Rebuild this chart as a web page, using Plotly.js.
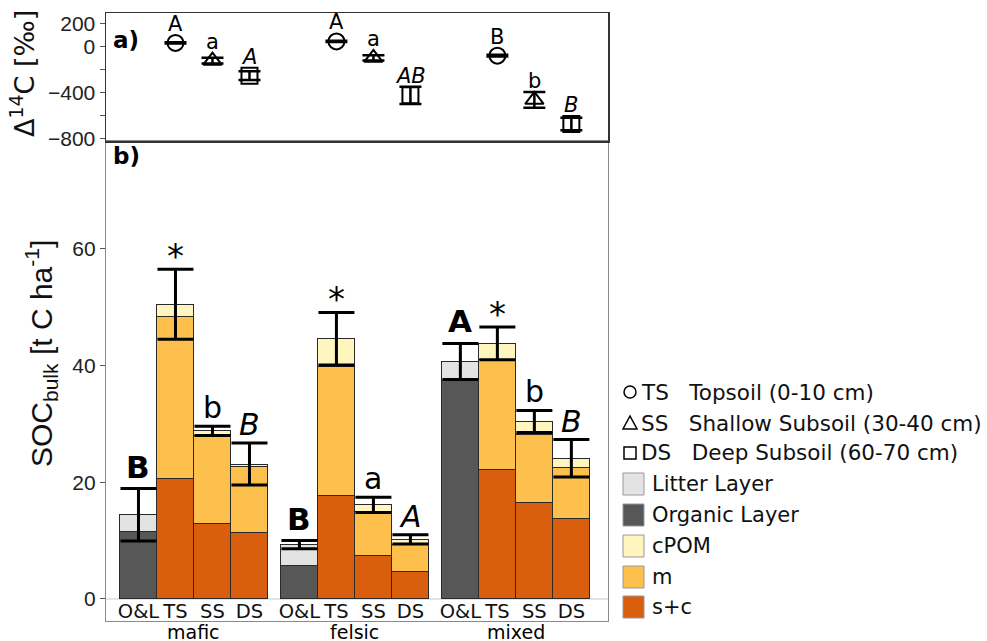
<!DOCTYPE html>
<html><head><meta charset="utf-8">
<script src="https://cdn.plot.ly/plotly-3.0.1.min.js"></script>
<style>html,body{margin:0;padding:0;background:#fff}#chart{width:987px;height:641px}</style>
</head><body><div id="chart"></div>
<script>
// ---------------- data ----------------
const geologies = ['mafic', 'felsic', 'mixed'];
const depthLabels = ['O&L', 'TS', 'SS', 'DS'];
// O&L bars (one per geology)
const organicLayer = [11.5, 5.7, 37.5];
const litterLayer = [2.9, 3.6, 3.2];
const olSE = [4.5, 0.7, 3.1];
const olLetters = ['B', 'B', 'A'];
// mineral soil bars, order: TS, SS, DS for mafic, felsic, mixed
const scFraction = [20.6, 13.0, 11.3, 17.7, 7.5, 4.7, 22.1, 16.6, 13.7];
const mFraction = [27.8, 15.0, 11.4, 22.1, 7.5, 4.6, 19.0, 11.6, 8.8];
const cpomFraction = [2.1, 0.8, 0.4, 4.8, 1.1, 0.9, 2.7, 2.2, 1.6];
const mineralSE = [6.0, 0.8, 3.6, 4.5, 1.3, 0.8, 2.8, 1.9, 3.2];
const mineralLetters = ['*', 'b', 'B', '*', 'a', 'A', '*', 'b', 'B'];
// Delta 14C (permil), order: TS, SS, DS for mafic, felsic, mixed
const d14C = [30, -125, -255, 43, -100, -426, -81, -465, -675];
const d14CSE = [6, 25, 38, 6, 22, 75, 8, 68, 55];
const d14CLetters = ['A', 'a', 'A', 'A', 'a', 'AB', 'B', 'b', 'B'];
// ticks
const socTicks = [0, 20, 40, 60];
const d14CTicks = [200, 0, -400, -800];
const d14CMinorTicks = [-200, -600];
// legend
const depthLegend = ['TS\u00a0\u00a0\u00a0Topsoil (0-10 cm)', 'SS\u00a0\u00a0\u00a0Shallow Subsoil (30-40 cm)', 'DS\u00a0\u00a0\u00a0Deep Subsoil (60-70 cm)'];
const fractionLegend = ['Litter Layer', 'Organic Layer', 'cPOM', 'm', 's+c'];

// ---------------- styling ----------------
const colLitter = '#e3e3e3', colOrganic = '#575757', colCpom = '#fff5bf', colM = '#fdc04c', colSC = '#d95f0e';
const W = 987, H = 641, ML = 106, MR = 379, MT = 13, MB = 20;
const PW = W - ML - MR, PH = H - MT - MB;
const px2x = p => (p - ML) / PW;
const px2y = p => (H - MB - p) / PH;
const gap = 0.35;
const pos = (g, d) => g * (4 + gap) + d;
const FONT = 'DejaVu Sans, Verdana, sans-serif';
const AFONT = 'Liberation Sans, Arial, sans-serif';
const topRange = [-823, 290];
const topPxPerUnit = (141 - MT) / (topRange[1] - topRange[0]);
const markerR = 8;

const olX = geologies.map((_, g) => pos(g, 0));
const minX = [];
geologies.forEach((_, g) => { for (let d = 1; d <= 3; d++) minX.push(pos(g, d)); });
const olTotal = organicLayer.map((v, i) => v + litterLayer[i]);
const minTotal = scFraction.map((v, i) => v + mFraction[i] + cpomFraction[i]);

const barLine = {color: '#2a2a2a', width: 1};
const traces = [
  {type: 'bar', x: olX, y: organicLayer, name: 'Organic Layer', marker: {color: colOrganic, line: barLine}, width: 1, xaxis: 'x', yaxis: 'y'},
  {type: 'bar', x: olX, y: litterLayer, name: 'Litter Layer', marker: {color: colLitter, line: barLine}, width: 1, xaxis: 'x', yaxis: 'y'},
  {type: 'bar', x: minX, y: scFraction, name: 's+c', marker: {color: colSC, line: barLine}, width: 1, xaxis: 'x', yaxis: 'y'},
  {type: 'bar', x: minX, y: mFraction, name: 'm', marker: {color: colM, line: barLine}, width: 1, xaxis: 'x', yaxis: 'y'},
  {type: 'bar', x: minX, y: cpomFraction, name: 'cPOM', marker: {color: colCpom, line: barLine}, width: 1, xaxis: 'x', yaxis: 'y'},
  {type: 'scatter', mode: 'markers', x: olX.concat(minX), y: olTotal.concat(minTotal), name: 'SE',
   marker: {size: 1, opacity: 0}, xaxis: 'x', yaxis: 'y',
   error_y: {type: 'data', array: olSE.concat(mineralSE), visible: true, color: '#000', thickness: 3, width: 18}}
];
const symbols = ['circle-open', 'triangle-up-open', 'square-open'];
for (let d = 0; d < 3; d++) {
  const xs = [], ys = [], es = [];
  geologies.forEach((_, g) => { xs.push(pos(g, d + 1)); ys.push(d14C[g * 3 + d]); es.push(d14CSE[g * 3 + d]); });
  traces.push({type: 'scatter', mode: 'markers', x: xs, y: ys, name: depthLabels[d + 1], xaxis: 'x2', yaxis: 'y2',
    marker: {symbol: symbols[d], size: 16, color: '#000', line: {width: 2, color: '#000'}},
    error_y: {type: 'data', array: es, visible: true, color: '#000', thickness: 2.5, width: 11}});
}

const ann = [];
// panel labels
ann.push({text: '<b>a)</b>', xref: 'paper', yref: 'paper', x: px2x(111), y: px2y(40), xanchor: 'left', yanchor: 'middle', showarrow: false, font: {family: FONT, size: 23, color: '#000'}});
ann.push({text: '<b>b)</b>', xref: 'paper', yref: 'paper', x: px2x(111), y: px2y(156), xanchor: 'left', yanchor: 'middle', showarrow: false, font: {family: FONT, size: 23, color: '#000'}});
// axis titles
ann.push({text: '\u0394<sup>14</sup>C [\u2030]', xref: 'paper', yref: 'paper', x: px2x(23), y: px2y(74), textangle: -90, showarrow: false, xanchor: 'center', yanchor: 'middle', font: {family: FONT, size: 27, color: '#111'}});
ann.push({text: 'SOC<sub>bulk</sub> [t C ha<sup>-1</sup>]', xref: 'paper', yref: 'paper', x: px2x(41), y: px2y(354), textangle: -90, showarrow: false, xanchor: 'center', yanchor: 'middle', font: {family: AFONT, size: 30, color: '#111'}});
// bar letters
geologies.forEach((geo, g) => {
  ann.push({text: '<b>' + olLetters[g] + '</b>', x: olX[g], y: olTotal[g] + olSE[g], xref: 'x', yref: 'y', yanchor: 'bottom', yshift: 2, showarrow: false, font: {family: FONT, size: 31, color: '#000'}});
  for (let d = 0; d < 3; d++) {
    const i = g * 3 + d;
    const L = mineralLetters[i];
    const txt = d === 2 ? '<i>' + L + '</i>' : L;
    ann.push({text: txt, x: minX[i], y: minTotal[i] + mineralSE[i], xref: 'x', yref: 'y', yanchor: 'bottom', yshift: L === '*' ? -9 : -1, showarrow: false, font: {family: FONT, size: L === '*' ? 34 : 30, color: '#000'}});
    const L2 = d14CLetters[i];
    const errPx = d14CSE[i] * topPxPerUnit;
    ann.push({text: d === 2 ? '<i>' + L2 + '</i>' : L2, x: minX[i], y: d14C[i] + d14CSE[i], xref: 'x2', yref: 'y2', yanchor: 'bottom',
      yshift: Math.max(0, markerR - errPx) - 3, showarrow: false, font: {family: FONT, size: 21, color: '#000'}});
  }
  ann.push({text: geo, x: pos(g, 1.5), y: px2y(619), xref: 'x', yref: 'paper', yanchor: 'top', showarrow: false, font: {family: FONT, size: 19, color: '#000'}});
});
// legend (manual)
const shapes = [];
const rowY = [392, 423, 453, 484, 515, 546, 577, 607];
const legFont = {family: FONT, size: 21, color: '#111'};
depthLegend.forEach((t, i) => {
  ann.push({text: t, xref: 'paper', yref: 'paper', x: px2x(639), y: px2y(rowY[i]), xanchor: 'left', yanchor: 'middle', showarrow: false, font: {family: FONT, size: 21.5, color: '#111'}});
});
const cy0 = rowY[0], cy1 = rowY[1], cy2 = rowY[2], cx = 630;
shapes.push({type: 'circle', xref: 'paper', yref: 'paper', x0: px2x(cx - 6), x1: px2x(cx + 6), y0: px2y(cy0 + 6), y1: px2y(cy0 - 6), line: {color: '#000', width: 1.5}});
shapes.push({type: 'path', xref: 'paper', yref: 'paper', path: 'M ' + px2x(cx - 7) + ' ' + px2y(cy1 + 6) + ' L ' + px2x(cx + 7) + ' ' + px2y(cy1 + 6) + ' L ' + px2x(cx) + ' ' + px2y(cy1 - 7) + ' Z', line: {color: '#000', width: 1.5}});
shapes.push({type: 'rect', xref: 'paper', yref: 'paper', x0: px2x(cx - 6), x1: px2x(cx + 6), y0: px2y(cy2 + 6), y1: px2y(cy2 - 6), line: {color: '#000', width: 1.5}});
const fracCols = [colLitter, colOrganic, colCpom, colM, colSC];
fractionLegend.forEach((t, i) => {
  const yy = rowY[i + 3];
  shapes.push({type: 'rect', xref: 'paper', yref: 'paper', x0: px2x(623), x1: px2x(644), y0: px2y(yy + 11), y1: px2y(yy - 11), fillcolor: fracCols[i], line: {color: '#999', width: 1}});
  ann.push({text: t, xref: 'paper', yref: 'paper', x: px2x(650), y: px2y(yy), xanchor: 'left', yanchor: 'middle', showarrow: false, font: legFont});
});

const xr = [-0.878, 12.69];
const layout = {
  width: W, height: H, margin: {l: ML, r: MR, t: MT, b: MB, pad: 0},
  paper_bgcolor: '#fff', plot_bgcolor: '#fff', showlegend: false, barmode: 'stack', bargap: 0,
  xaxis: {domain: [0, 1], range: xr, anchor: 'y', showline: true, mirror: true, linecolor: '#8a8a8a', linewidth: 1.2,
    showgrid: false, zeroline: false, ticks: '', tickvals: olX.concat(minX), ticktext: geologies.map(() => depthLabels[0]).concat(minX.map((_, i) => depthLabels[i % 3 + 1])),
    ticklabelposition: 'inside', tickfont: {family: FONT, size: 19.5, color: '#111'}},
  yaxis: {domain: [0, px2y(141)], range: [-3.8, 78.5], anchor: 'x', showline: true, mirror: true, linecolor: '#8a8a8a', linewidth: 1.2,
    showgrid: false, zeroline: true, zerolinecolor: '#e4e4e4', zerolinewidth: 1.5, ticks: 'outside', ticklen: 5, tickcolor: '#555',
    tickvals: socTicks, tickfont: {family: AFONT, size: 21, color: '#222'}},
  xaxis2: {domain: [0, 1], range: xr, anchor: 'y2', matches: 'x', showline: true, mirror: true, linecolor: '#333', linewidth: 1.5,
    showgrid: false, zeroline: false, showticklabels: false, ticks: ''},
  yaxis2: {domain: [px2y(141), 1], range: topRange, anchor: 'x2', showline: true, mirror: true, linecolor: '#333', linewidth: 1.5,
    showgrid: false, zeroline: false, ticks: 'outside', ticklen: 5, tickcolor: '#555',
    tickvals: d14CTicks, tickfont: {family: AFONT, size: 21, color: '#222'},
    minor: {tickvals: d14CMinorTicks, ticks: 'outside', ticklen: 5, tickcolor: '#555', showgrid: false}},
  annotations: ann, shapes: shapes
};
Plotly.newPlot('chart', traces, layout, {staticPlot: true, displayModeBar: false});
</script></body></html>
